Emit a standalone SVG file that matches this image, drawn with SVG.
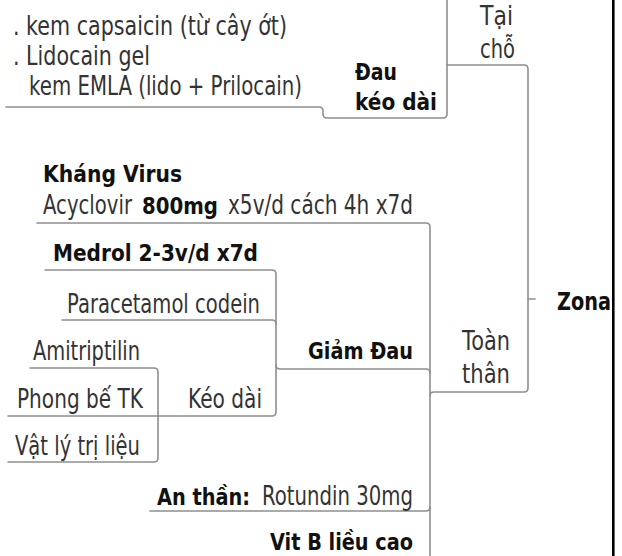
<svg xmlns="http://www.w3.org/2000/svg" width="622" height="556" viewBox="0 0 622 556">
  <style>
    text { font-family: "DejaVu Sans", "Noto Sans", sans-serif; font-size: 26px; fill: #333; }
    .b { font-weight: bold; fill: #111; font-size: 23px; }
    .link { fill: none; stroke: #8f8f8f; stroke-width: 1.6; stroke-linecap: round; }
  </style>
  <rect width="622" height="556" fill="#fff"/>

  <!-- branch lines, drawn right to left with rounded bends -->
  <g id="connectors" class="link">
    <path d="M6,107 H319 Q323,107 323,111 V114 Q323,118 327,118 H443 Q447,118 447,114 V0"/>
    <path d="M447,65 H524 Q528,65 528,69 V388 Q528,392 524,392 H434 Q430,392 430,396"/>
    <path d="M528,299 H535"/>
    <path d="M37,223 H426 Q430,223 430,227 V556"/>
    <path d="M45,270 H272 Q276,270 276,274 V412 Q276,416 272,416 H8"/>
    <path d="M62,320 H272 Q276,320 276,324"/>
    <path d="M276,365 Q276,369 280,369 H426 Q430,369 430,373"/>
    <path d="M30,368 H154 Q158,368 158,372 V458 Q158,462 154,462 H8"/>
    <path d="M150,511 H426 Q430,511 430,507"/>
  </g>

  <g id="zona">
    <text class="b" x="557" y="310" style="font-size:24px" textLength="54" lengthAdjust="spacingAndGlyphs">Zona</text>
  </g>

  <g id="tai-cho">
    <text x="480" y="25" textLength="33" lengthAdjust="spacingAndGlyphs">Tại</text>
    <text x="480" y="58" textLength="35" lengthAdjust="spacingAndGlyphs">chỗ</text>
  </g>

  <g id="dau-keo-dai">
    <text class="b" x="355" y="80" textLength="42" lengthAdjust="spacingAndGlyphs">Đau</text>
    <text class="b" x="355" y="110" textLength="82" lengthAdjust="spacingAndGlyphs">kéo dài</text>
  </g>

  <g id="thuoc-tai-cho">
    <text x="13" y="35" textLength="274" lengthAdjust="spacingAndGlyphs">. kem capsaicin (từ cây ớt)</text>
    <text x="13" y="65" textLength="137" lengthAdjust="spacingAndGlyphs">. Lidocain gel</text>
    <text x="29" y="95" textLength="273" lengthAdjust="spacingAndGlyphs">kem EMLA (lido + Prilocain)</text>
  </g>

  <g id="toan-than">
    <text x="462" y="350" textLength="48" lengthAdjust="spacingAndGlyphs">Toàn</text>
    <text x="462" y="383" textLength="48" lengthAdjust="spacingAndGlyphs">thân</text>
  </g>

  <g id="khang-virus">
    <text class="b" x="43" y="182" textLength="139" lengthAdjust="spacingAndGlyphs">Kháng Virus</text>
    <text x="43" y="214" textLength="89" lengthAdjust="spacingAndGlyphs">Acyclovir</text>
    <text class="b" x="142" y="214" textLength="76" lengthAdjust="spacingAndGlyphs">800mg</text>
    <text x="228" y="214" textLength="185" lengthAdjust="spacingAndGlyphs">x5v/d cách 4h x7d</text>
  </g>

  <g id="medrol">
    <text class="b" x="53" y="261" textLength="205" lengthAdjust="spacingAndGlyphs">Medrol 2-3v/d x7d</text>
  </g>

  <g id="paracetamol">
    <text x="67" y="313" textLength="193" lengthAdjust="spacingAndGlyphs">Paracetamol codein</text>
  </g>

  <g id="giam-dau">
    <text class="b" x="308" y="359" textLength="105" lengthAdjust="spacingAndGlyphs">Giảm Đau</text>
  </g>

  <g id="amitriptilin">
    <text x="33" y="360" textLength="107" lengthAdjust="spacingAndGlyphs">Amitriptilin</text>
  </g>

  <g id="keo-dai">
    <text x="188" y="408" textLength="74" lengthAdjust="spacingAndGlyphs">Kéo dài</text>
  </g>

  <g id="phong-be">
    <text x="17" y="408" textLength="126" lengthAdjust="spacingAndGlyphs">Phong bế TK</text>
  </g>

  <g id="vat-ly">
    <text x="15" y="455" textLength="125" lengthAdjust="spacingAndGlyphs">Vật lý trị liệu</text>
  </g>

  <g id="an-than">
    <text class="b" x="157" y="505" textLength="93" lengthAdjust="spacingAndGlyphs">An thần:</text>
    <text x="262" y="505" textLength="151" lengthAdjust="spacingAndGlyphs">Rotundin 30mg</text>
  </g>

  <g id="vit-b">
    <text class="b" x="270" y="550" textLength="143" lengthAdjust="spacingAndGlyphs">Vit B liều cao</text>
  </g>

  <!-- frame edge on the right -->
  <rect x="612" y="0" width="2.6" height="556" fill="#000"/>
</svg>
